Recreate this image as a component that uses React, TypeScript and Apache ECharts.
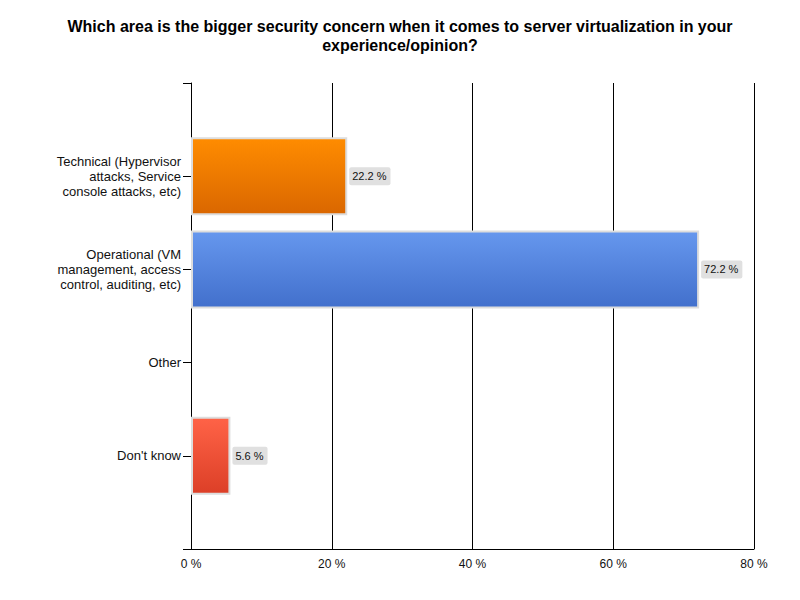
import React, { useEffect, useRef } from "react";
import * as echarts from "echarts";

const titleText =
  "Which area is the bigger security concern when it comes to server virtualization in your\nexperience/opinion?";
const categories = [
  "",
  "Technical (Hypervisor\nattacks, Service\nconsole attacks, etc)",
  "Operational (VM\nmanagement, access\ncontrol, auditing, etc)",
  "Other",
  "Don't know",
  "",
];
const values: (number | string)[] = ["-", 22.2, 72.2, 0, 5.6, "-"];
const topColors = ["", "#FF8C00", "#6697EE", "#FF6347", "#FF6347", ""];
const bottomColors = ["", "#DA6700", "#4270CC", "#DC3F27", "#DC3F27", ""];
const xTicks = { min: 0, max: 80, interval: 20 };

const FONT = "'Liberation Sans', Arial, sans-serif";

export default function App() {
  const ref = useRef<HTMLDivElement>(null);
  useEffect(() => {
    if (!ref.current) return;
    const chart = echarts.init(ref.current, undefined, { renderer: "svg" });
    const data = values.map((v, i) => {
      if (v === "-") return "-";
      return {
        value: v,
        itemStyle: {
          color: new echarts.graphic.LinearGradient(0, 0, 0, 1, [
            { offset: 0, color: topColors[i] },
            { offset: 1, color: bottomColors[i] },
          ]),
          borderColor: v === 0 ? "transparent" : "#dddddd",
          borderWidth: 2,
        },
        label: { show: v !== 0 },
      };
    });
    chart.setOption({
      animation: false,
      backgroundColor: "#ffffff",
      textStyle: { fontFamily: FONT },
      title: {
        text: titleText,
        left: "center",
        top: 12,
        textStyle: {
          fontFamily: FONT,
          fontSize: 16,
          fontWeight: "bold",
          color: "#000",
          lineHeight: 19,
        },
      },
      grid: { left: 191, right: 46, top: 83, bottom: 51, containLabel: false },
      xAxis: {
        type: "value",
        min: xTicks.min,
        max: xTicks.max,
        interval: xTicks.interval,
        axisLine: { show: true, lineStyle: { color: "#000", width: 1 } },
        axisTick: { show: false },
        splitLine: { show: true, lineStyle: { color: "#000", width: 1 } },
        axisLabel: {
          formatter: "{value} %",
          fontSize: 12,
          color: "#111",
          margin: 9,
          fontFamily: FONT,
        },
      },
      yAxis: {
        type: "category",
        inverse: true,
        boundaryGap: false,
        data: categories,
        axisLine: { show: true, lineStyle: { color: "#000", width: 1 } },
        axisTick: { show: true, length: 8, lineStyle: { color: "#000" } },
        splitLine: { show: false },
        axisLabel: {
          fontSize: 13,
          lineHeight: 15,
          color: "#111",
          margin: 10,
          align: "right",
          fontFamily: FONT,
        },
      },
      series: [
        {
          type: "bar",
          data,
          barWidth: 78,
          label: {
            show: true,
            position: "right",
            distance: 2,
            formatter: "{c} %",
            fontSize: 11,
            lineHeight: 12,
            color: "#111",
            backgroundColor: "#e0e0e0",
            padding: [3, 4, 3, 3],
            borderRadius: 2,
            fontFamily: FONT,
          },
        },
      ],
    });
    return () => chart.dispose();
  }, []);
  return (
    <div
      ref={ref}
      style={{ position: "fixed", left: 0, top: 0, width: 800, height: 600 }}
    />
  );
}
